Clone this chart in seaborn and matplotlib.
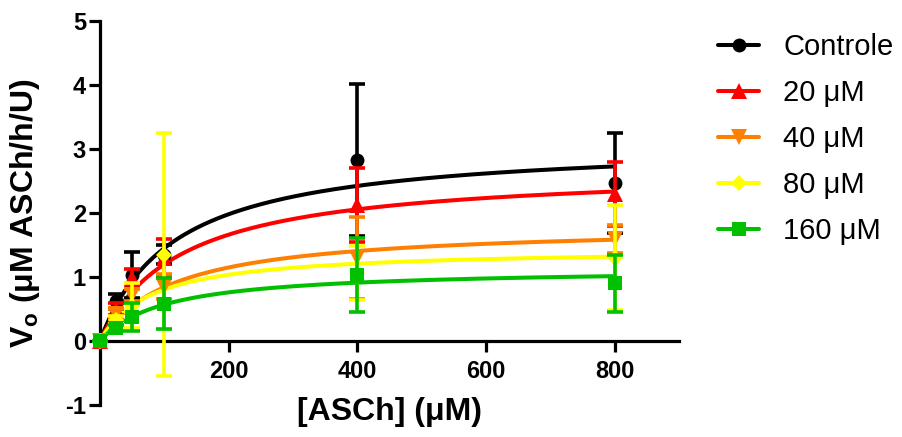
import numpy as np
import pandas as pd
import matplotlib
matplotlib.use("Agg")
import matplotlib.pyplot as plt
from matplotlib.lines import Line2D
import seaborn as sns

# ---------------- data ----------------
x_asch = [0, 25, 50, 100, 400, 800]
series_names = ["Controle", "20 μM", "40 μM", "80 μM", "160 μM"]

v_controle = [0, 0.62, 1.03, 1.35, 2.83, 2.47]
e_controle = [0, 0.12, 0.36, 0.15, 1.19, 0.78]
v_20 = [0, 0.50, 0.98, 1.30, 2.12, 2.30]
e_20 = [0, 0.10, 0.15, 0.30, 0.58, 0.50]
v_40 = [0, 0.42, 0.72, 0.85, 1.30, 1.60]
e_40 = [0, 0.08, 0.10, 0.20, 0.64, 0.22]
v_80 = [0, 0.33, 0.55, 1.35, 1.06, 1.30]
e_80 = [0, 0.06, 0.35, 1.90, 0.42, 0.82]
v_160 = [0, 0.20, 0.38, 0.58, 1.03, 0.90]
e_160 = [0, 0.05, 0.22, 0.40, 0.58, 0.45]

# Michaelis-Menten fit parameters
vmax = [3.12, 2.70, 1.81, 1.45, 1.14]
km = [115, 125, 115, 80, 100]

x_ticks = [200, 400, 600, 800]
y_ticks = [-1, 0, 1, 2, 3, 4, 5]

values = [v_controle, v_20, v_40, v_80, v_160]
errors = [e_controle, e_20, e_40, e_80, e_160]

# ---------------- style ----------------
colors = ["#000000", "#FF0000", "#FF8000", "#FFFF00", "#00C000"]
markers = ["o", "^", "v", "D", "s"]
msizes = [10, 11, 11, 8, 10]

sns.set_style("ticks")
plt.rcParams["font.family"] = ["Liberation Sans", "DejaVu Sans"]
plt.rcParams.update({"text.color": "black", "axes.labelcolor": "black",
                     "xtick.color": "black", "ytick.color": "black",
                     "axes.edgecolor": "black"})

fig = plt.figure(figsize=(9.03, 4.37), dpi=100)
ax = fig.add_axes([100 / 903, 32 / 437, 579 / 903, 384 / 437])

for s in ["top", "right"]:
    ax.spines[s].set_visible(False)
ax.spines["bottom"].set_position(("data", 0))
for s in ["left", "bottom"]:
    ax.spines[s].set_linewidth(2.3)
    ax.spines[s].set_color("black")

# fitted curves
xs = np.linspace(0, 800, 400)
rows = []
for name, vm, k in zip(series_names, vmax, km):
    for xv in xs:
        rows.append({"ASCh": xv, "V": vm * xv / (k + xv), "serie": name})
curves = pd.DataFrame(rows)
sns.lineplot(data=curves, x="ASCh", y="V", hue="serie", hue_order=series_names,
             palette=colors, linewidth=2.9, legend=False, ax=ax, zorder=2)

# data points with error bars
for i, (name, vals, errs) in enumerate(zip(series_names, values, errors)):
    ax.errorbar(x_asch, vals, yerr=errs, fmt="none", ecolor=colors[i],
                elinewidth=2.6, capsize=6, capthick=2.6,
                zorder=3 + 2 * i, clip_on=False)
    ax.plot(x_asch, vals, linestyle="none", marker=markers[i], color=colors[i],
            markersize=msizes[i], markeredgewidth=0, zorder=4 + 2 * i,
            clip_on=False)

ax.set_xlim(0, 900)
ax.set_ylim(-1, 5)
ax.set_xticks(x_ticks)
ax.set_yticks(y_ticks)
ax.set_xticklabels([str(t) for t in x_ticks], fontsize=17, fontweight="bold")
ax.set_yticklabels([str(t) for t in y_ticks], fontsize=17, fontweight="bold")
ax.tick_params(axis="both", direction="out", length=8, width=2.3, color="black",
               labelcolor="black")
ax.tick_params(axis="x", pad=6)
ax.tick_params(axis="y", pad=2)

ax.set_xlabel("[ASCh] (μM)", fontsize=23, fontweight="bold", color="black")
ax.xaxis.set_label_coords(0.5, 0.02)
ax.set_ylabel(r"$\mathregular{V_o}$ (μM ASCh/h/U)", fontsize=23,
              fontweight="bold", color="black")
ax.yaxis.set_label_coords(-0.1, 0.5)

handles = [Line2D([0], [0], color=c, marker=m, markersize=ms, linewidth=2.9,
                  markeredgewidth=0)
           for c, m, ms in zip(colors, markers, msizes)]
fig.legend(handles, series_names, loc="upper left",
           bbox_to_anchor=(718 / 903, (437 - 33) / 437), frameon=False,
           fontsize=21, handlelength=1.41, handletextpad=0.83,
           labelspacing=0.62, borderpad=0, borderaxespad=0,
           labelcolor="black")

fig.savefig("out.png", dpi=100)
